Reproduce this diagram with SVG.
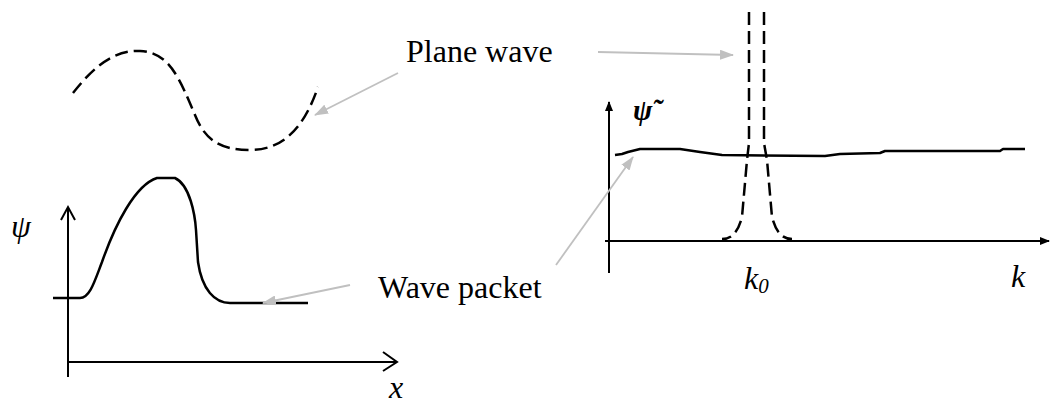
<svg xmlns="http://www.w3.org/2000/svg" width="1050" height="405" viewBox="0 0 1050 405">
<defs>
<marker id="gray" markerWidth="14" markerHeight="10" refX="13" refY="5" orient="auto" markerUnits="userSpaceOnUse">
<path d="M0,0 L14,5 L0,10 Z" fill="#c0c0c0"/>
</marker>
<marker id="blk" markerWidth="10" markerHeight="10" refX="9" refY="5" orient="auto" markerUnits="userSpaceOnUse">
<path d="M0,1 L10,5 L0,9 Z" fill="#000"/>
</marker>
</defs>
<style>
.ax{fill:none;stroke:#000;stroke-width:2}
.sol{fill:none;stroke:#000;stroke-width:2.5;stroke-linejoin:round}
.dash{fill:none;stroke:#000;stroke-width:2.5;stroke-dasharray:13 6}
.gl{fill:none;stroke:#c0c0c0;stroke-width:1.8}
text{font-family:'Liberation Serif','Times New Roman','DejaVu Serif',serif;fill:#000}
.lbl{font-size:32px}
.it{font-style:italic;font-size:32px}
</style>
<g id="left-plot">
<path class="ax" d="M68,377 L68,208 M61,220 L68,207 L75,220"/>
<path class="ax" d="M67,362 L396,362 M383,352 L397,362 L383,371"/>
<path class="dash" d="M73,93 C95,65 115,50 140,51 C170,52 180,80 195,115 C205,140 220,150 250,150 C285,150 305,125 318,87"/>
<path class="sol" d="M53,298 L80,298 C90,298 95,280 102,262 C115,225 135,185 157,178 L175,178 C190,185 195,215 196,230 L198,262 C202,290 215,303 230,303 L308,303"/>
<text class="it" x="11" y="237" font-family="Liberation Serif" font-size="30">ψ</text>
<text class="it" x="389" y="398" font-family="Liberation Serif">x</text>
</g>
<g id="right-plot">
<line class="ax" x1="609" y1="273" x2="609" y2="102" marker-end="url(#blk)"/>
<line class="ax" x1="605" y1="241" x2="1049" y2="241" marker-end="url(#blk)"/>
<path class="sol" d="M615,155 L622,154 L628,152 L640,149 L680,149 L700,152 L722,155 L825,156 L840,154 L880,153 L885,151 L1000,151 L1003,149 L1025,149"/>
<path class="dash" d="M749,12 L749,143 L747,160 L742,217 C738,232 732,239 722,239"/>
<path class="dash" d="M764,12 L764,143 L767,160 L772,217 C776,232 782,239 792,239"/>
<text x="633" y="120" font-family="DejaVu Serif" font-style="italic" font-weight="bold" font-size="29">ψ̃</text>
<text class="it" x="744" y="289" font-family="Liberation Serif">k<tspan font-size="21" dy="4">0</tspan></text>
<text class="it" x="1011" y="287" font-family="Liberation Serif">k</text>
</g>
<g id="labels">
<text class="lbl" x="406" y="62" font-family="Liberation Serif">Plane wave</text>
<text class="lbl" x="378" y="298" font-family="Liberation Serif">Wave packet</text>
</g>
<g id="connectors">
<line class="gl" x1="398" y1="73" x2="315" y2="115" marker-end="url(#gray)"/>
<line class="gl" x1="598" y1="52" x2="733" y2="55" marker-end="url(#gray)"/>
<line class="gl" x1="556" y1="265" x2="633" y2="157" marker-end="url(#gray)"/>
<line class="gl" x1="350" y1="285" x2="263" y2="303" marker-end="url(#gray)"/>
</g>
</svg>
